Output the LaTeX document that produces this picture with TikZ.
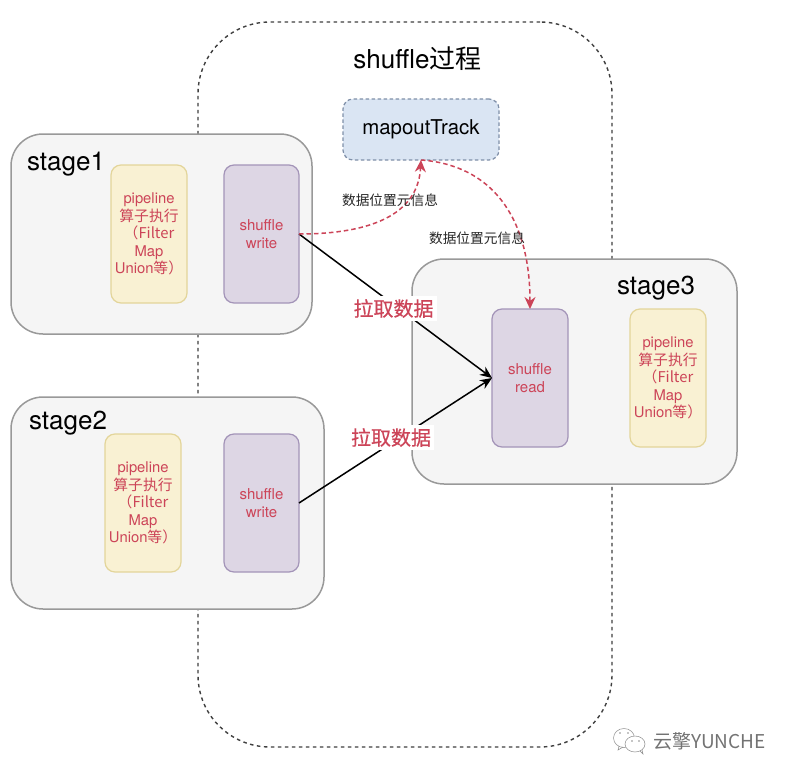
\documentclass[tikz,border=0pt]{standalone}
\usepackage{fontspec}
\setmainfont{TeX Gyre Heros}
\newfontfamily\cjk{Noto Sans CJK SC}
\newfontfamily\cjkb[FakeBold=0.6]{Noto Sans CJK SC}
\usetikzlibrary{arrows.meta}
\definecolor{stagefill}{HTML}{F5F5F5}
\definecolor{stageline}{HTML}{999999}
\definecolor{pipefill}{HTML}{F9F1D3}
\definecolor{pipeline}{HTML}{E3D59A}
\definecolor{wfill}{HTML}{DDD6E4}
\definecolor{wline}{HTML}{A394B8}
\definecolor{mfill}{HTML}{DAE5F3}
\definecolor{mline}{HTML}{7F8FA8}
\definecolor{redtxt}{HTML}{CC4458}
\newcommand{\fs}[1]{\fontsize{#1pt}{#1pt}\selectfont}
\tikzset{
  box/.style={rectangle,rounded corners=#1,inner sep=0pt,outer sep=0pt,anchor=north west},
  stagebox/.style={box=32pt,draw=stageline,fill=stagefill,line width=1.5pt},
  pipebox/.style={box=10pt,draw=pipeline,fill=pipefill,line width=1.2pt,minimum width=76pt,minimum height=138pt,
     align=center,text=redtxt,font=\fs{14.8},execute at begin node={\setlength{\baselineskip}{17.6pt}}},
  wbox/.style={box=10pt,draw=wline,fill=wfill,line width=1.2pt,minimum width=75pt,minimum height=138pt,
     align=center,text=redtxt,font=\fs{15},execute at begin node={\setlength{\baselineskip}{18pt}}},
  pull/.style={-{Stealth[length=12pt,width=10pt]},black,line width=1.5pt},
  meta/.style={-{Stealth[length=12pt,width=11pt]},draw=redtxt,line width=1.5pt,dash pattern=on 4.5pt off 3pt},
  pulllabel/.style={fill=white,text=redtxt,font=\fs{20}\cjkb,inner sep=3pt},
  metalabel/.style={text=black!85,font=\fs{13.7}\cjk,inner sep=0pt},
  stagelabel/.style={font=\fs{26},text=black,inner sep=0pt},
}
\begin{document}
\begin{tikzpicture}[x=1pt,y=-1pt]
\useasboundingbox (0,0) rectangle (790,776);
\fill[white] (0,0) rectangle (790,776);
% shuffle region
\node[box=72pt,draw=black!75,line width=1.4pt,dash pattern=on 3.5pt off 3.5pt,minimum width=414pt,minimum height=725pt] (region) at (198,22) {};
\node[font=\fs{26},inner sep=0pt] (title) at (417.5,59) {shuffle\cjk{过程}};
% stages
\node[stagebox,minimum width=301pt,minimum height=200pt] (s1) at (11,134) {};
\node[stagebox,minimum width=313pt,minimum height=212pt] (s2) at (11,397) {};
\node[stagebox,minimum width=325pt,minimum height=225pt] (s3) at (412,259) {};
\node[stagelabel] (s1t) at (66,164) {stage1};
\node[stagelabel] (s2t) at (68,423) {stage2};
\node[stagelabel] (s3t) at (656,288) {stage3};
% boxes
\node[pipebox] (p1) at (111,165) {pipeline\\\cjk{算子执行}\\\cjk{（}Filter\\Map\\Union\cjk{等）}};
\node[pipebox] (p2) at (105,434) {pipeline\\\cjk{算子执行}\\\cjk{（}Filter\\Map\\Union\cjk{等）}};
\node[pipebox] (p3) at (630,309) {pipeline\\\cjk{算子执行}\\\cjk{（}Filter\\Map\\Union\cjk{等）}};
\node[wbox] (w1) at (224,165) {shuffle\\write};
\node[wbox] (w2) at (224,434) {shuffle\\write};
\node[wbox,minimum width=76pt] (r) at (492,309) {shuffle\\read};
\node[box=10pt,draw=mline,fill=mfill,line width=1.2pt,dash pattern=on 3.5pt off 2.5pt,minimum width=156pt,minimum height=61pt,font=\fs{20.4}] (map) at (343,99) {mapoutTrack};
% connectors
\draw[pull] (w1.east) -- (r.west);
\draw[pull] (w2.east) -- (r.west);
\draw[meta] (w1.east) .. controls (370,234) and (418,215) .. (map.south);
\draw[meta] (map.south) .. controls (490,165) and (530,215) .. (r.north);
% labels
\node[pulllabel] (l1) at (393.5,308.5) {拉取数据};
\node[pulllabel] (l2) at (391,437.5) {拉取数据};
\node[metalabel] (m1) at (390,200) {数据位置元信息};
\node[metalabel] (m2) at (477,238) {数据位置元信息};
% watermark
\begin{scope}[draw=black!45,line width=.5pt,fill=white]
  \filldraw (624,738) ellipse (10.5pt and 9.5pt);
  \draw (619,746) -- (618,750) -- (623,747);
  \filldraw (635,744) ellipse (10pt and 8pt);
  \draw (640,751) -- (643,754) -- (642,750);
  \fill[black!45] (620,733) circle (.9pt) (628,733) circle (.9pt) (632,741) circle (.8pt) (639,741) circle (.8pt);
\end{scope}
\node[font=\fs{19},text=black!55,inner sep=0pt,anchor=west] (wm) at (653,741) {\cjk{云擎}YUNCHE};
\end{tikzpicture}
\end{document}
